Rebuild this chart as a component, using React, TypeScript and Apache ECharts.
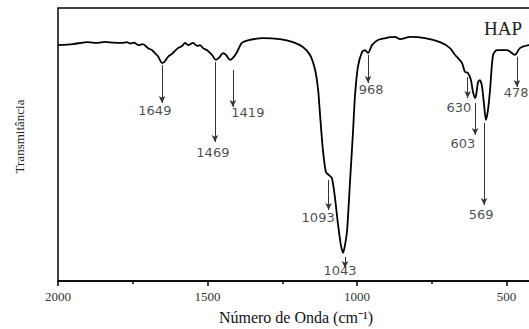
import React, { useEffect, useRef } from "react";
import * as echarts from "echarts";

// Spectrum (wavenumber in cm-1, transmittance in arbitrary %)
const wavenumbers = [
  2000, 1950, 1900, 1870, 1843, 1815, 1786, 1770, 1759, 1745, 1732, 1716, 1699, 1686, 1676, 1666,
  1652, 1645, 1632, 1619, 1599, 1585, 1575, 1565, 1548, 1535, 1525, 1515, 1502, 1485, 1472, 1462,
  1448, 1438, 1425, 1415, 1401, 1385, 1358, 1314, 1258, 1214, 1181, 1157, 1140, 1130, 1124, 1114,
  1104, 1094, 1084, 1074, 1064, 1054, 1047, 1040, 1033, 1023, 1013, 1007, 997, 983, 973, 963,
  950, 930, 896, 873, 856, 823, 773, 722, 689, 672, 649, 639, 629, 619, 612, 605,
  602, 595, 589, 582, 575, 569, 562, 555, 545, 532, 498, 482, 472, 455, 425, 388,
];
const transmittance = [
  86.4, 86.8, 87.5, 87.2, 87.6, 87.3, 87.2, 87.5, 87.0, 87.3, 86.4, 86.8, 85.3, 84.6, 83.5, 82.4,
  79.9, 80.2, 82.1, 83.2, 85.3, 86.1, 87.2, 86.4, 87.2, 86.1, 86.4, 85.3, 84.6, 82.8, 81.0, 81.7,
  83.5, 82.8, 81.0, 81.7, 83.9, 87.2, 88.3, 89.0, 88.6, 87.5, 85.7, 82.8, 77.3, 70.0, 61.5, 48.0,
  39.9, 38.8, 37.7, 30.8, 21.2, 13.2, 10.3, 13.2, 18.7, 37.0, 55.3, 67.4, 78.4, 83.9, 84.6, 83.5,
  86.4, 88.3, 89.2, 89.4, 88.6, 89.4, 89.0, 87.5, 85.3, 82.8, 79.9, 76.6, 76.2, 73.6, 69.2, 67.0,
  67.8, 72.9, 73.6, 71.4, 64.5, 59.0, 62.6, 70.0, 82.8, 84.6, 84.6, 83.5, 82.8, 85.3, 86.4, 86.6,
];

// Peak annotations
const peakLabels = ["1649", "1469", "1419", "1093", "1043", "968", "630", "603", "569", "478"];
const arrowWn = [1652, 1475, 1415, 1095, 1040, 963, 630, 605, 575, 465];
const arrowFrom = [79.1, 80.2, 77.3, 37.0, 8.8, 82.8, 74.7, 65.2, 57.9, 82.1];
const arrowTo = [65.2, 50.9, 63.7, 26.0, 4.8, 72.5, 67.0, 53.5, 27.8, 71.1];
const labelWn = [1676, 1482, 1365, 1130, 1057, 953, 659, 646, 585, 468];
const labelV = [62.3, 46.9, 61.9, 23.4, 3.7, 70.0, 63.4, 50.5, 24.2, 68.9];

const xTicksShown = [2000, 1500, 1000, 500];

export default function App() {
  const ref = useRef<HTMLDivElement>(null);

  useEffect(() => {
    if (!ref.current) return;
    const chart = echarts.init(ref.current, null, { renderer: "svg" });
    const lineData = wavenumbers.map((w, i) => [w, transmittance[i]]);
    const markData = peakLabels.map((_, i) => [
      { coord: [arrowWn[i], arrowFrom[i]] },
      { coord: [arrowWn[i], arrowTo[i]] },
    ]);
    const labelData = peakLabels.map((name, i) => ({ name, value: [labelWn[i], labelV[i]] }));

    chart.setOption({
      animation: false,
      backgroundColor: "#ffffff",
      title: {
        text: "HAP",
        left: 479,
        top: 14,
        textStyle: {
          fontFamily: "Liberation Serif",
          fontWeight: "normal",
          fontSize: 19,
          color: "#222",
        },
      },
      grid: {
        left: 58,
        top: 8,
        width: 598,
        height: 273,
        containLabel: false,
        outerBoundsMode: "none",
        show: true,
        borderColor: "#000",
        borderWidth: 1.5,
        backgroundColor: "transparent",
      },
      xAxis: {
        type: "value",
        inverse: true,
        min: 0,
        max: 2000,
        interval: 500,
        name: "Número de Onda (cm⁻¹)",
        nameLocation: "middle",
        nameGap: 28,
        nameTextStyle: {
          fontFamily: "Liberation Serif",
          fontSize: 16,
          color: "#111",
          padding: [0, 122, 0, 0],
        },
        axisLine: { show: true, lineStyle: { color: "#000", width: 1.5 } },
        axisTick: { show: true, length: 5, lineStyle: { color: "#000", width: 1.5 } },
        minorTick: { show: true, splitNumber: 2, length: 3, lineStyle: { color: "#000", width: 1.5 } },
        splitLine: { show: false },
        axisLabel: {
          margin: 9,
          fontFamily: "Liberation Serif",
          fontSize: 13,
          color: "#333",
          formatter: (v: number) => (xTicksShown.includes(v) ? String(v) : ""),
        },
      },
      yAxis: {
        type: "value",
        min: 0,
        max: 100,
        name: "Transmitância",
        nameLocation: "middle",
        nameGap: 32,
        nameRotate: 90,
        nameTextStyle: {
          fontFamily: "Liberation Serif",
          fontSize: 13,
          color: "#222",
          padding: [0, 0, 0, 16],
        },
        axisLine: { show: true, lineStyle: { color: "#000", width: 1.5 } },
        axisTick: { show: false },
        axisLabel: { show: false },
        splitLine: { show: false },
      },
      series: [
        {
          type: "line",
          data: lineData,
          showSymbol: false,
          smooth: 0.25,
          lineStyle: { color: "#000", width: 1.8 },
          silent: true,
          markLine: {
            silent: true,
            symbol: ["none", "arrow"],
            symbolSize: [5, 7],
            lineStyle: { color: "#333", width: 1, type: "solid" },
            label: { show: false },
            emphasis: { disabled: true },
            data: markData,
          },
        },
        {
          type: "scatter",
          data: labelData,
          symbolSize: 0,
          silent: true,
          label: {
            show: true,
            position: "inside",
            formatter: (p: any) => p.name,
            fontFamily: "DejaVu Sans",
            fontSize: 13,
            color: "#1a1a1a",
          },
        },
      ],
    });
    return () => chart.dispose();
  }, []);

  return (
    <div
      ref={ref}
      style={{ position: "fixed", left: 0, top: 0, width: 529, height: 329 }}
    />
  );
}
